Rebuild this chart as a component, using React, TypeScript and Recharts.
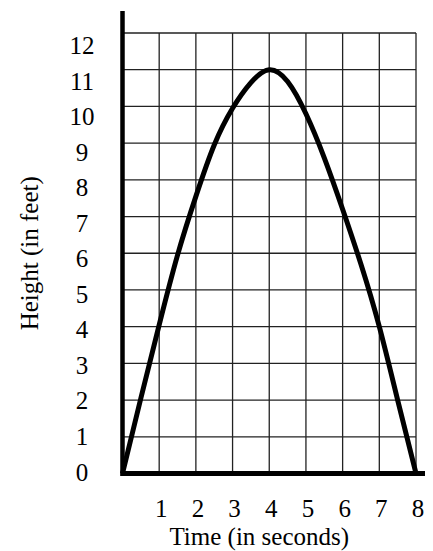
import React from 'react';
import { LineChart, Line, XAxis, YAxis, CartesianGrid, ReferenceLine } from 'recharts';

const timeValues = [0, 0.5, 1, 1.5, 2, 2.5, 3, 3.5, 4, 4.5, 5, 5.5, 6, 6.5, 7, 7.5, 8];
const heightValues = [0, 2.05, 4.05, 5.95, 7.55, 8.95, 9.95, 10.65, 11, 10.68, 9.8, 8.6, 7.2, 5.7, 4.0, 2.0, 0];
const xTicks = [1, 2, 3, 4, 5, 6, 7, 8];
const yTicks = [0, 1, 2, 3, 4, 5, 6, 7, 8, 9, 10, 11, 12];
const xTitle = 'Time (in seconds)';
const yTitle = 'Height (in feet)';

const data = timeValues.map((t, i) => ({ t, h: heightValues[i] }));

const FONT = "'Liberation Serif', 'Times New Roman', serif";
const FS = 25;

export default function App() {
  return (
    <LineChart width={425} height={543} data={data} margin={{ top: 25, right: 17, bottom: 0, left: 0 }}>
      <CartesianGrid stroke="#222" strokeWidth={1.3} fill="none" />
      <XAxis
        dataKey="t"
        type="number"
        domain={[0, 8]}
        ticks={xTicks}
        height={77.5}
        axisLine={false}
        tickLine={false}
        tickSize={0}
        tickMargin={25.5}
        interval={0}
        tick={{ fill: '#000', fontSize: FS, fontFamily: FONT, dx: 2 }}
        label={{
          content: (p: any) => {
            const vb = p.viewBox;
            return (
              <text x={vb.x + vb.width / 2 - 10} y={vb.y + 71.5} textAnchor="middle" fill="#000" fontSize={FS} fontFamily={FONT}>
                {xTitle}
              </text>
            );
          },
        }}
      />
      <YAxis yAxisId={0} type="number" domain={[0, 12]} ticks={yTicks} width={0} hide />
      <YAxis
        yAxisId="lab"
        type="number"
        domain={[-0.05, 12.34]}
        allowDataOverflow
        ticks={yTicks}
        width={114.5}
        axisLine={false}
        tickLine={false}
        tickSize={0}
        tickMargin={40.5}
        interval={0}
        tick={{ fill: '#000', fontSize: FS, fontFamily: FONT, textAnchor: 'middle' }}
        label={{
          content: (p: any) => {
            const vb = p.viewBox;
            const cx = vb.x + 30;
            const cy = vb.y + vb.height / 2;
            return (
              <text x={cx} y={cy} transform={`rotate(-90, ${cx}, ${cy})`} textAnchor="middle" fill="#000" fontSize={FS} fontFamily={FONT}>
                {yTitle}
              </text>
            );
          },
        }}
      />
      <ReferenceLine
        yAxisId={0}
        segment={[{ x: 0, y: -0.07 }, { x: 0, y: 12.6 }]}
        stroke="#000"
        strokeWidth={4.5}
        ifOverflow="visible"
      />
      <ReferenceLine
        yAxisId={0}
        segment={[{ x: -0.05, y: 0 }, { x: 8.45, y: 0 }]}
        stroke="#000"
        strokeWidth={5}
        ifOverflow="visible"
      />
      <Line
        yAxisId="lab"
        dataKey="h"
        stroke="none"
        strokeWidth={0}
        dot={false}
        activeDot={false}
        legendType="none"
        isAnimationActive={false}
      />
      <Line
        yAxisId={0}
        dataKey="h"
        type="natural"
        stroke="#000"
        strokeWidth={5}
        dot={false}
        isAnimationActive={false}
      />
    </LineChart>
  );
}
